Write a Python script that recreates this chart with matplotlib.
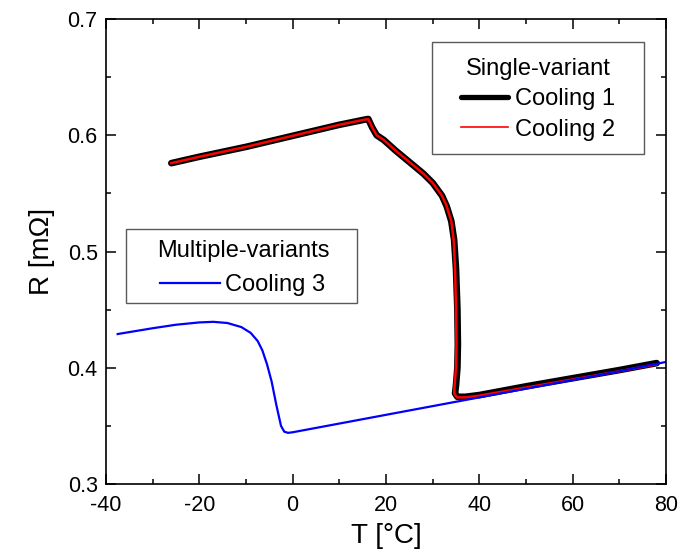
import matplotlib
matplotlib.use('Agg')
import matplotlib.pyplot as plt
from matplotlib.patches import Rectangle

plt.rcParams['font.family'] = ['Liberation Sans', 'DejaVu Sans']
plt.rcParams['axes.unicode_minus'] = False

# single-variant sample, cooling runs 1 and 2
t_c1 = [-26, -20, -10, 0, 10, 15.5, 16.2, 17, 18, 19.5, 22, 25, 28, 30, 32,
        33, 34, 34.6, 35.0, 35.3, 35.4, 35.3, 35.0, 34.8, 35.3, 37, 40, 50,
        60, 70, 78]
r_c1 = [0.576, 0.5815, 0.590, 0.5995, 0.609, 0.6135, 0.614, 0.607, 0.600,
        0.596, 0.587, 0.577, 0.567, 0.559, 0.548, 0.539, 0.526, 0.510, 0.485,
        0.450, 0.420, 0.400, 0.385, 0.378, 0.375, 0.375, 0.3765, 0.384,
        0.391, 0.398, 0.404]

t_c2 = [-26, -20, -10, 0, 10, 15.5, 16.2, 17, 18, 19.5, 22, 25, 28, 30, 32,
        33, 34, 34.5, 34.8, 35.0, 35.1, 35.0, 34.7, 34.6, 35.2, 37, 40, 50,
        60, 70, 78]
r_c2 = [0.576, 0.5815, 0.590, 0.5995, 0.609, 0.6135, 0.6138, 0.607, 0.600,
        0.596, 0.587, 0.577, 0.567, 0.559, 0.548, 0.539, 0.526, 0.510, 0.485,
        0.450, 0.420, 0.400, 0.385, 0.378, 0.3745, 0.3745, 0.376, 0.383,
        0.390, 0.397, 0.403]

# multiple-variant sample, cooling run 3
t_c3 = [-37.5, -30, -25, -20, -17, -14, -11, -9, -7.5, -6.5, -5.5, -4.5,
        -3.5, -2.5, -1.8, -1, 0, 10, 20, 30, 40, 50, 60, 70, 80]
r_c3 = [0.429, 0.434, 0.437, 0.439, 0.4395, 0.4385, 0.435, 0.430, 0.423,
        0.415, 0.403, 0.388, 0.368, 0.350, 0.345, 0.344, 0.3445, 0.352,
        0.3595, 0.367, 0.3745, 0.382, 0.3895, 0.397, 0.405]

fig = plt.figure(figsize=(6.94, 5.58), dpi=100)
ax = fig.add_axes([106/694, 74/558, 560/694, 465/558])

l1, = ax.plot(t_c1, r_c1, color='black', lw=4.8, solid_capstyle='round',
              solid_joinstyle='round', label='Cooling 1')
l2, = ax.plot(t_c2, r_c2, color='red', lw=1.8, label='Cooling 2')
l3, = ax.plot(t_c3, r_c3, color='blue', lw=1.6, label='Cooling 3')

ax.set_xlim(-40, 80)
ax.set_ylim(0.3, 0.7)
ax.set_xticks([-40, -20, 0, 20, 40, 60, 80])
ax.set_xticks(range(-30, 80, 20), minor=True)
ax.set_yticks([0.3, 0.4, 0.5, 0.6, 0.7])
ax.set_yticks([0.35, 0.45, 0.55, 0.65], minor=True)
ax.set_yticklabels(['0.3', '0.4', '0.5', '0.6', '0.7'])

ax.tick_params(which='both', direction='in', top=True, right=True,
               width=1.1, labelsize=15.5)
ax.tick_params(which='major', length=7)
ax.tick_params(which='minor', length=3.5)
ax.tick_params(axis='x', pad=8)
ax.tick_params(axis='y', pad=6)
for s in ax.spines.values():
    s.set_linewidth(1.2)

ax.set_xlabel('T [°C]', fontsize=20, labelpad=5)
ax.set_ylabel('R [mΩ]', fontsize=20, labelpad=9)

# legends without frames, boxes drawn separately underneath them
leg1 = ax.legend([l1, l2], ['Cooling 1', 'Cooling 2'], title='Single-variant',
                 loc='upper center', bbox_to_anchor=(538/694, 1 - 58/558),
                 bbox_transform=fig.transFigure, frameon=False, fontsize=17,
                 title_fontsize=17, borderpad=0, borderaxespad=0,
                 handlelength=2.0, handletextpad=0.3, labelspacing=0.35)
leg1.legend_handles[0].set_linewidth(3.8)
leg1.legend_handles[1].set_linewidth(1.2)
ax.add_artist(leg1)

leg2 = ax.legend([l3], ['Cooling 3'], title='Multiple-variants',
                 loc='upper center', bbox_to_anchor=(243/694, 1 - 240/558),
                 bbox_transform=fig.transFigure, frameon=False, fontsize=17,
                 title_fontsize=17, borderpad=0, borderaxespad=0,
                 handlelength=2.5, handletextpad=0.25)

for x0, y0, x1, y1 in [(432, 42, 644, 154), (126, 229, 357, 303)]:
    ax.add_patch(Rectangle((x0/694, 1 - y1/558), (x1 - x0)/694,
                           (y1 - y0)/558, transform=fig.transFigure,
                           facecolor='white', edgecolor='0.35', lw=1.0,
                           zorder=4, clip_on=False))

fig.savefig('out.png', dpi=100)
